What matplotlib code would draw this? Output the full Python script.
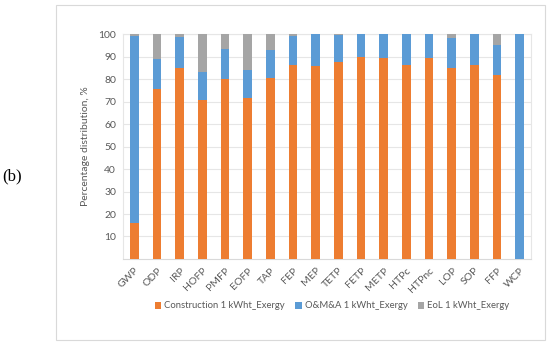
import matplotlib.pyplot as plt
from matplotlib.patches import Rectangle
import numpy as np

plt.rcParams['font.family'] = ['Lato', 'DejaVu Sans']

# 類別與各階段百分比
categories = ['GWP', 'ODP', 'IRP', 'HOFP', 'PMFP', 'EOFP', 'TAP', 'FEP', 'MEP',
              'TETP', 'FETP', 'METP', 'HTPc', 'HTPnc', 'LOP', 'SOP', 'FFP', 'WCP']
construction = [16.0, 75.6, 84.7, 70.9, 80.1, 71.6, 80.5, 86.3, 85.9,
                87.5, 89.6, 89.5, 86.3, 89.2, 85.1, 86.3, 81.6, 0.0]
om_cum = [99.3, 88.7, 98.5, 83.2, 93.3, 83.8, 92.9, 99.3, 99.9,
          99.7, 100.0, 100.0, 100.0, 100.0, 98.2, 100.0, 95.1, 100.0]
om = [b - a for a, b in zip(construction, om_cum)]
eol = [100 - b for b in om_cum]

labels = ['Construction 1 kWht_Exergy', 'O&M&A 1 kWht_Exergy', 'EoL 1 kWht_Exergy']
colors = ['#ED7D31', '#5B9BD5', '#A5A5A5']
txt = '#595959'

fig = plt.figure(figsize=(5.5, 3.45), dpi=100)
ax = fig.add_axes([0.2236, 0.2493, 0.742, 0.652])

x = np.arange(len(categories))
w = 0.38
ax.bar(x, construction, w, color=colors[0], label=labels[0], zorder=3)
ax.bar(x, om, w, bottom=construction, color=colors[1], label=labels[1], zorder=3)
ax.bar(x, eol, w, bottom=om_cum, color=colors[2], label=labels[2], zorder=3)

ax.set_xlim(-0.5, len(categories) - 0.5)
ax.set_ylim(0, 100)
ax.set_yticks(range(10, 101, 10))
ax.yaxis.grid(True, color='#E6E6E6', linewidth=0.8, zorder=0)
ax.set_xticks(x)
ax.set_xticklabels(categories, rotation=45, ha='right', rotation_mode='anchor')
ax.tick_params(axis='both', length=0, labelsize=7.5, colors=txt, pad=5)
for s in ax.spines.values():
    s.set_color('#E6E6E6')
    s.set_linewidth(0.8)
ax.spines['bottom'].set_color('#D9D9D9')

ax.set_ylabel('Percentage distribution, %', fontsize=7.5, color=txt, labelpad=6)

ax.legend(loc='center', bbox_to_anchor=(332 / 550, 1 - 306 / 345),
          bbox_transform=fig.transFigure,
          ncol=3, frameon=False, fontsize=6.8, labelcolor=txt,
          handlelength=0.7, handleheight=0.7, handletextpad=0.3, columnspacing=1.1)

# 外框
fig.patches.append(Rectangle((56 / 550, 5 / 345), 489 / 550, 335 / 345,
                             transform=fig.transFigure, fill=False,
                             edgecolor='#D9D9D9', linewidth=0.8))

fig.text(12 / 550, 1 - 176 / 345, '(b)', fontsize=12, family='Liberation Serif',
         ha='center', va='center', color='black')

plt.savefig('out.png', dpi=100)
